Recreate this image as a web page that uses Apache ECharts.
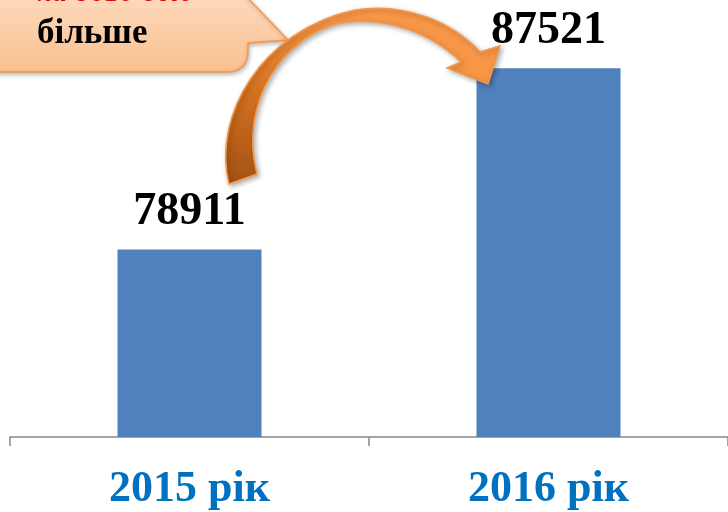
<!DOCTYPE html>
<html>
<head>
<meta charset="utf-8">
<script src="https://cdn.jsdelivr.net/npm/echarts@6/dist/echarts.min.js"></script>
<style>
html,body{margin:0;padding:0;background:#fff;}
#chart{width:728px;height:512px;}
</style>
</head>
<body>
<div id="chart"></div>
<script>
var years = ['2015 рік', '2016 рік'];
var counts = [78911, 87521];
var calloutText = 'більше';
var calloutTop = 'на 8610 осіб';

var chart = echarts.init(document.getElementById('chart'));
var option = {
	animation: false,
	backgroundColor: '#ffffff',
	grid: {left: 10, right: -2, top: 16, bottom: 75},
	xAxis: {
		type: 'category',
		data: years,
		axisLine: {lineStyle: {color: '#868686', width: 1.5}},
		axisTick: {show: true, length: 9, alignWithLabel: false, lineStyle: {color: '#868686', width: 1.5}},
		axisLabel: {
			margin: 31,
			fontFamily: 'Liberation Serif',
			fontWeight: 'bold',
			fontSize: 44,
			lineHeight: 44,
			color: '#0070C0'
		}
	},
	yAxis: {
		type: 'value',
		min: 70000,
		max: 90000,
		show: false,
		splitLine: {show: false}
	},
	series: [{
		type: 'bar',
		data: counts,
		barWidth: 144,
		itemStyle: {color: '#4F81BD'},
		label: {
			show: true,
			position: 'top',
			distance: 14,
			fontFamily: 'Liberation Serif',
			fontWeight: 'bold',
			fontSize: 46,
			lineHeight: 46,
			color: '#000000'
		}
	}],
	graphic: [
		{
			type: 'text',
			z: 110,
			x: 37,
			y: -22,
			style: {
				text: calloutTop,
				font: 'italic 30px "Liberation Serif"',
				fill: '#E00000',
				verticalAlign: 'top'
			}
		},
		{
			type: 'text',
			z: 110,
			x: 37,
			y: 16,
			style: {
				text: calloutText,
				font: 'bold 35px "Liberation Serif"',
				fill: '#000000',
				verticalAlign: 'top'
			}
		}
	]
};
chart.setOption(option);

// callout box and curved arrow (decoration)
var callout = echarts.graphic.makePath(
	'M -10 -10 L 240 -10 L 288 40 L 248 43 L 248 50 Q 248 72 226 72 L -10 72 Z', {
	z: 100,
	style: {
		fill: new echarts.graphic.LinearGradient(0, 0, 0, 1, [
			{offset: 0, color: '#FDDCC0'}, {offset: 1, color: '#FAC090'}]),
		stroke: '#F79646',
		lineWidth: 1.5,
		shadowBlur: 4,
		shadowOffsetX: 1,
		shadowOffsetY: 2,
		shadowColor: 'rgba(0,0,0,0.25)'
	}
});
var arrow = echarts.graphic.makePath(
	'M 229 184 C 212 115 262 30 355 10 C 405 2 452 22 480 52 L 500 46 L 488 84 L 447 68 L 461 62 C 430 32 385 16 340 23 C 285 36 238 100 257 174 Z', {
	z: 120,
	style: {
		fill: new echarts.graphic.LinearGradient(0, 1, 0.3, 0, [
			{offset: 0, color: '#A04F15'}, {offset: 0.5, color: '#D4721F'}, {offset: 1, color: '#F79646'}]),
		stroke: '#F79646',
		lineWidth: 1.5,
		shadowBlur: 5,
		shadowOffsetX: 2,
		shadowOffsetY: 2,
		shadowColor: 'rgba(0,0,0,0.3)'
	}
});
chart.getZr().add(callout);
chart.getZr().add(arrow);
</script>
</body>
</html>
